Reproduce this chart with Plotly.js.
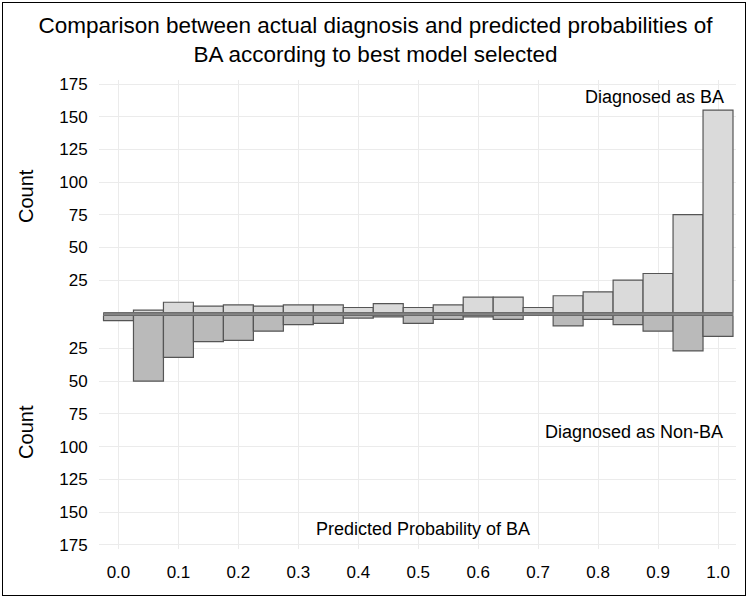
<!DOCTYPE html>
<html>
<head>
<meta charset="utf-8">
<script src="https://cdn.plot.ly/plotly-3.0.1.min.js"></script>
<style>
  html, body { margin: 0; padding: 0; background: #ffffff; }
  #wrap { position: relative; width: 751px; height: 601px; }
  #chart { width: 751px; height: 601px; }
  #frame { position: absolute; left: 2px; top: 2px; width: 744px; height: 594px;
           border: 1.5px solid #000; pointer-events: none; box-sizing: border-box; }
</style>
</head>
<body>
<div id="wrap"><div id="chart"></div><div id="frame"></div></div>
<script>
// Bin centres of predicted probability of BA
const binCentres = [0.00, 0.05, 0.10, 0.15, 0.20, 0.25, 0.30, 0.35, 0.40, 0.45, 0.50,
                    0.55, 0.60, 0.65, 0.70, 0.75, 0.80, 0.85, 0.90, 0.95, 1.00];
// Counts of patients diagnosed as BA per bin
const countBA    = [0, 2, 8, 5, 6, 5, 6, 6, 4, 7, 4, 6, 12, 12, 4, 13, 16, 25, 30, 75, 155];
// Counts of patients diagnosed as Non-BA per bin
const countNonBA = [4, 50, 32, 20, 19, 12, 7, 6, 2, 1, 6, 3, 1, 3, 0, 8, 3, 7, 12, 27, 16];

const xTickVals = [0.0, 0.1, 0.2, 0.3, 0.4, 0.5, 0.6, 0.7, 0.8, 0.9, 1.0];
const xTickText = ["0.0", "0.1", "0.2", "0.3", "0.4", "0.5", "0.6", "0.7", "0.8", "0.9", "1.0"];
const yTickVals = [25, 50, 75, 100, 125, 150, 175];
const yTickText = ["25", "50", "75", "100", "125", "150", "175"];

const titleText = "Comparison between actual diagnosis and predicted probabilities of<br>BA according to best model selected";
const labelBA = "Diagnosed as BA";
const labelNonBA = "Diagnosed as Non-BA";
const labelX = "Predicted Probability of BA";

const binWidth = 0.05;
const FONT = "Liberation Sans, Arial, Helvetica, sans-serif";
const outline = "#555555";

const traces = [
  {
    type: "bar", x: binCentres, y: countBA, width: binWidth,
    xaxis: "x", yaxis: "y", name: labelBA,
    marker: { color: "#dadada", line: { color: outline, width: 1.2 } },
    hoverinfo: "x+y"
  },
  {
    type: "bar", x: binCentres, y: countNonBA, width: binWidth,
    xaxis: "x", yaxis: "y2", name: labelNonBA,
    marker: { color: "#bababa", line: { color: outline, width: 1.2 } },
    hoverinfo: "x+y"
  }
];

const topDomain = [0.5038, 1];
const botDomain = [0, 0.4979];

const yCommon = {
  tickvals: yTickVals, ticktext: yTickText,
  tickfont: { family: FONT, size: 17, color: "#000" },
  ticks: "outside", ticklen: 7, tickcolor: "rgba(0,0,0,0)",
  showgrid: true, gridcolor: "#ebebeb", gridwidth: 1,
  zeroline: false, showline: false, fixedrange: true
};

const layout = {
  width: 751, height: 601,
  margin: { l: 99, r: 15, t: 80, b: 52 },
  paper_bgcolor: "#ffffff", plot_bgcolor: "#ffffff",
  showlegend: false,
  bargap: 0,
  font: { family: FONT, color: "#000" },
  title: {
    text: titleText,
    font: { family: FONT, size: 22.5, color: "#000" },
    x: 0.5, xanchor: "center", xref: "container",
    y: 0.945, yanchor: "top", yref: "container"
  },
  xaxis: {
    domain: [0, 1], anchor: "y2",
    range: [-0.0325, 1.03],
    tickvals: xTickVals, ticktext: xTickText,
    tickfont: { family: FONT, size: 17, color: "#000" },
    ticks: "outside", ticklen: 8, tickcolor: "rgba(0,0,0,0)",
    showgrid: true, gridcolor: "#ebebeb", gridwidth: 1,
    zeroline: false, showline: false, fixedrange: true
  },
  yaxis: Object.assign({}, yCommon, {
    domain: topDomain, anchor: "x", range: [0, 178.1],
    title: { text: "Count", font: { family: FONT, size: 20, color: "#000" }, standoff: 20 }
  }),
  yaxis2: Object.assign({}, yCommon, {
    domain: botDomain, anchor: "x", range: [178.1, 0],
    title: { text: "Count", font: { family: FONT, size: 20, color: "#000" }, standoff: 20 }
  }),
  shapes: [
    {
      type: "rect", layer: "above",
      xref: "x", yref: "paper",
      x0: binCentres[0] - binWidth / 2, x1: binCentres[binCentres.length - 1] + binWidth / 2,
      y0: botDomain[1], y1: topDomain[0],
      fillcolor: "#858585", line: { color: "#6a6a6a", width: 1 }
    }
  ],
  annotations: [
    {
      text: labelBA, xref: "x", yref: "y", x: 1.0134, y: 165,
      xanchor: "right", yanchor: "middle", showarrow: false,
      font: { family: FONT, size: 18, color: "#000" }
    },
    {
      text: labelNonBA, xref: "x", yref: "y2", x: 1.0117, y: 88.6,
      xanchor: "right", yanchor: "middle", showarrow: false,
      font: { family: FONT, size: 18, color: "#000" }
    },
    {
      text: labelX, xref: "x", yref: "y2", x: 0.508, y: 162.9,
      xanchor: "center", yanchor: "middle", showarrow: false,
      font: { family: FONT, size: 18, color: "#000" }
    }
  ]
};

Plotly.newPlot("chart", traces, layout, { staticPlot: true, displayModeBar: false });
</script>
</body>
</html>
